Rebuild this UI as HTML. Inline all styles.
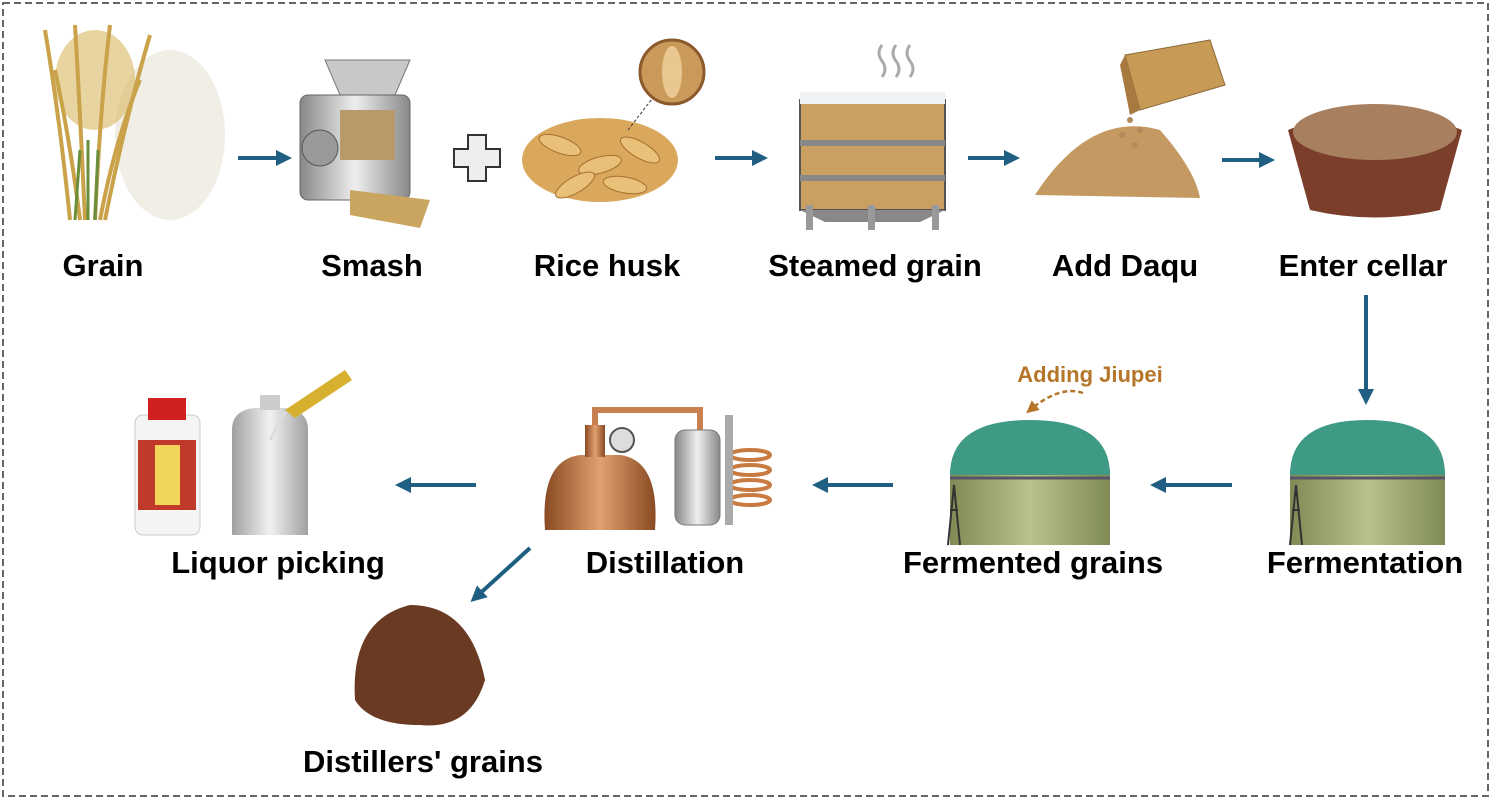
<!DOCTYPE html>
<html><head><meta charset="utf-8"><style>
html,body{margin:0;padding:0;background:#fff;}
body{width:1493px;height:804px;position:relative;overflow:hidden;}
svg{position:absolute;left:0;top:0;}
text{font-family:"Liberation Sans",sans-serif;font-weight:bold;}
</style></head><body>
<svg width="1493" height="804" viewBox="0 0 1493 804">
<defs>
<marker id="ah" markerWidth="4" markerHeight="4" refX="2.5" refY="2" orient="auto" markerUnits="strokeWidth"><path d="M0,0 L4,2 L0,4 z" fill="#1f5f82"/></marker>
<marker id="ah2" markerWidth="5" markerHeight="5" refX="3" refY="2.5" orient="auto" markerUnits="strokeWidth"><path d="M0,0 L5,2.5 L0,5 z" fill="#b5762a"/></marker>
<linearGradient id="cu" x1="0" x2="1"><stop offset="0" stop-color="#8a4a22"/><stop offset=".5" stop-color="#e0a070"/><stop offset="1" stop-color="#8a4a22"/></linearGradient>
<linearGradient id="st" x1="0" x2="1"><stop offset="0" stop-color="#888"/><stop offset=".5" stop-color="#eee"/><stop offset="1" stop-color="#888"/></linearGradient>
<linearGradient id="gr" x1="0" x2="1"><stop offset="0" stop-color="#7f8a55"/><stop offset=".5" stop-color="#b8c28a"/><stop offset="1" stop-color="#7f8a55"/></linearGradient>
</defs>
<rect x="3" y="3" width="1485" height="793" fill="none" stroke="#666" stroke-width="2" stroke-dasharray="7,4"/>

<!-- Grain -->
<g>
<ellipse cx="170" cy="135" rx="55" ry="85" fill="#f1eee6"/>
<ellipse cx="95" cy="80" rx="40" ry="50" fill="#d9b860" opacity=".6"/>
<g stroke="#c9a24a" stroke-width="4" fill="none">
<path d="M70 220 Q60 120 45 30"/><path d="M85 220 Q80 110 75 25"/><path d="M95 220 Q100 110 110 25"/><path d="M105 220 Q125 120 150 35"/><path d="M80 220 Q70 140 55 70"/><path d="M100 220 Q115 140 140 80"/>
</g>
<g stroke="#6a8f3a" stroke-width="3"><path d="M75 220 L80 150"/><path d="M95 220 L98 150"/><path d="M88 220 L88 140"/></g>
</g>
<!-- Smash -->
<g>
<polygon points="325,60 410,60 395,95 340,95" fill="#c8c8c8" stroke="#777"/>
<rect x="300" y="95" width="110" height="105" rx="8" fill="url(#st)" stroke="#666"/>
<circle cx="320" cy="148" r="18" fill="#999" stroke="#555"/>
<rect x="340" y="110" width="55" height="50" fill="#b89a6a"/>
<polygon points="350,190 430,200 420,228 350,215" fill="#c9a560"/>
</g>
<!-- plus -->
<path d="M468 135 h18 v14 h14 v18 h-14 v14 h-18 v-14 h-14 v-18 h14 z" fill="#eee" stroke="#333" stroke-width="2"/>
<!-- rice husk -->
<g>
<ellipse cx="600" cy="160" rx="78" ry="42" fill="#d9a85c"/>
<g fill="#e8c078" stroke="#a86f30">
<ellipse cx="560" cy="145" rx="22" ry="8" transform="rotate(20 560 145)"/>
<ellipse cx="600" cy="165" rx="22" ry="8" transform="rotate(-15 600 165)"/>
<ellipse cx="640" cy="150" rx="22" ry="8" transform="rotate(30 640 150)"/>
<ellipse cx="575" cy="185" rx="22" ry="8" transform="rotate(-30 575 185)"/>
<ellipse cx="625" cy="185" rx="22" ry="8" transform="rotate(10 625 185)"/>
</g>
<line x1="628" y1="130" x2="655" y2="95" stroke="#333" stroke-dasharray="3,2"/>
<circle cx="672" cy="72" r="32" fill="#c99a5a" stroke="#8a5a2a" stroke-width="3"/>
<ellipse cx="672" cy="72" rx="10" ry="26" fill="#e8c890"/>
</g>
<!-- steamed -->
<g>
<path d="M882 45 q-6 8 0 16 q6 8 0 16 M896 45 q-6 8 0 16 q6 8 0 16 M910 45 q-6 8 0 16 q6 8 0 16" stroke="#aaa" stroke-width="3" fill="none"/>
<rect x="800" y="100" width="145" height="110" fill="#c99f62" stroke="#555" stroke-width="2"/>
<rect x="800" y="92" width="145" height="12" fill="#eef2f5"/>
<rect x="800" y="140" width="145" height="6" fill="#888"/><rect x="800" y="175" width="145" height="6" fill="#888"/>
<polygon points="800,210 945,210 920,222 825,222" fill="#888"/>
<rect x="806" y="205" width="7" height="25" fill="#999"/><rect x="932" y="205" width="7" height="25" fill="#999"/><rect x="868" y="205" width="7" height="25" fill="#999"/>
</g>
<!-- daqu -->
<g>
<path d="M1035 195 Q1090 110 1160 130 Q1195 170 1200 198 Z" fill="#c49a62"/>
<polygon points="1125,55 1210,40 1225,85 1140,110" fill="#c79a55" stroke="#8a6a3a"/>
<polygon points="1125,55 1140,110 1130,115 1120,65" fill="#a77a40"/>
<g fill="#b08a5a"><circle cx="1130" cy="120" r="3"/><circle cx="1140" cy="130" r="3"/><circle cx="1122" cy="135" r="3"/><circle cx="1135" cy="145" r="3"/></g>
</g>
<!-- enter cellar -->
<g>
<path d="M1288 130 Q1375 95 1462 130 L1440 210 Q1375 225 1310 210 Z" fill="#7a3e2a"/>
<ellipse cx="1375" cy="132" rx="82" ry="28" fill="#a88060"/>
</g>
<!-- silos -->
<g>
<rect x="1290" y="470" width="155" height="75" fill="url(#gr)"/>
<path d="M1290 475 Q1290 420 1367 420 Q1445 420 1445 475 Z" fill="#3e9a85"/>
<path d="M1290 478 L1445 478" stroke="#556" stroke-width="3"/>
<path d="M1290 545 L1296 485 L1302 545 M1292 510 L1300 510" stroke="#333" stroke-width="2" fill="none"/>
</g>
<g>
<rect x="950" y="470" width="160" height="75" fill="url(#gr)"/>
<path d="M950 475 Q950 420 1030 420 Q1110 420 1110 475 Z" fill="#3e9a85"/>
<path d="M950 478 L1110 478" stroke="#556" stroke-width="3"/>
<path d="M948 545 L954 485 L960 545 M950 510 L958 510" stroke="#333" stroke-width="2" fill="none"/>
</g>
<path d="M1083 393 Q1060 385 1030 410" stroke="#b5762a" stroke-width="2.5" fill="none" stroke-dasharray="5,3" marker-end="url(#ah2)"/>
<!-- distillation -->
<g>
<path d="M545 530 Q540 460 580 455 L620 455 Q660 460 655 530 Z" fill="url(#cu)"/>
<rect x="585" y="425" width="20" height="32" fill="url(#cu)"/>
<path d="M595 425 L595 410 L700 410 L700 430" stroke="#c88050" stroke-width="6" fill="none"/>
<circle cx="622" cy="440" r="12" fill="#ddd" stroke="#555" stroke-width="2"/>
<rect x="675" y="430" width="45" height="95" rx="10" fill="url(#st)" stroke="#777"/>
<g stroke="#c87a40" stroke-width="4" fill="none"><ellipse cx="750" cy="455" rx="20" ry="5"/><ellipse cx="750" cy="470" rx="20" ry="5"/><ellipse cx="750" cy="485" rx="20" ry="5"/><ellipse cx="750" cy="500" rx="20" ry="5"/></g>
<rect x="725" y="415" width="8" height="110" fill="#aaa"/>
</g>
<!-- liquor -->
<g>
<rect x="135" y="415" width="65" height="120" rx="8" fill="#f4f4f4" stroke="#ccc"/>
<rect x="148" y="398" width="38" height="22" fill="#d02020"/>
<rect x="138" y="440" width="58" height="70" fill="#c0392b"/>
<rect x="155" y="445" width="25" height="60" fill="#f2d65c"/>
<path d="M232 430 Q232 410 255 408 L285 408 Q308 410 308 430 L308 535 L232 535 Z" fill="url(#st)" opacity=".8"/>
<rect x="260" y="395" width="20" height="15" fill="#ccc"/>
<polygon points="285,410 345,370 352,380 295,418" fill="#d8b030"/>
<line x1="285" y1="412" x2="270" y2="440" stroke="#ddd" stroke-width="3"/>
</g>
<!-- distillers grains -->
<path d="M355 700 Q350 620 410 605 Q470 605 485 680 Q470 730 420 725 Q370 725 355 700 Z" fill="#6b3a22"/>

<!-- arrows -->
<g stroke="#1f5f82" stroke-width="4" fill="none" marker-end="url(#ah)">
<line x1="238" y1="158" x2="286" y2="158"/>
<line x1="715" y1="158" x2="762" y2="158"/>
<line x1="968" y1="158" x2="1014" y2="158"/>
<line x1="1222" y1="160" x2="1269" y2="160"/>
<line x1="1366" y1="295" x2="1366" y2="399"/>
<line x1="1232" y1="485" x2="1156" y2="485"/>
<line x1="893" y1="485" x2="818" y2="485"/>
<line x1="476" y1="485" x2="401" y2="485"/>
<line x1="530" y1="548" x2="475" y2="598"/>
</g>

<!-- labels -->
<g font-size="31" fill="#000" text-anchor="middle">
<text x="103" y="276">Grain</text>
<text x="372" y="276">Smash</text>
<text x="607" y="276">Rice husk</text>
<text x="875" y="276">Steamed grain</text>
<text x="1125" y="276">Add Daqu</text>
<text x="1363" y="276">Enter cellar</text>
<text x="278" y="573">Liquor picking</text>
<text x="665" y="573">Distillation</text>
<text x="1033" y="573">Fermented grains</text>
<text x="1365" y="573">Fermentation</text>
<text x="423" y="772">Distillers' grains</text>
</g>
<text x="1090" y="382" font-size="22" fill="#b5762a" text-anchor="middle">Adding Jiupei</text>
</svg>
</body></html>
